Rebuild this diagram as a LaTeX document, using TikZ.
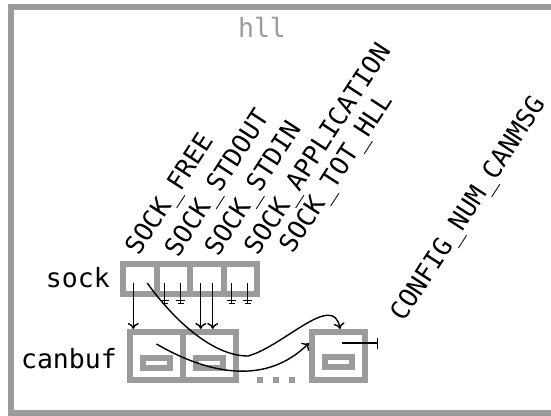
\documentclass[tikz,border=0pt]{standalone}
\usepackage{fontspec}
\setmonofont{DejaVu Sans Mono}
\usetikzlibrary{arrows.meta}
\definecolor{fg}{RGB}{155,155,155}
\begin{document}
\begin{tikzpicture}[x=1pt,y=-1pt,
  sbox/.style={draw=fg, line width=6pt, minimum width=33.5pt, minimum height=30pt, inner sep=0pt},
  cbox/.style={draw=fg, line width=6pt, minimum width=53pt, minimum height=48pt, inner sep=0pt},
  ibox/.style={draw=fg, line width=6pt, minimum width=27pt, minimum height=10pt, inner sep=0pt},
  lbl/.style={font=\ttfamily\fontsize{26.5}{30}\selectfont, inner sep=0pt},
  rlbl/.style={font=\ttfamily\fontsize{25.5}{30}\selectfont, inner sep=0pt, rotate=57, anchor=base west},
  ptr/.style={line width=1.4pt, -{To[length=6pt,width=11pt]}},
  gnd/.pic={\draw[line width=1.4pt] (0,0) -- (0,20) (-4.5,17.5) -- (4.5,17.5) (-3,20.5) -- (3,20.5);}
]
\clip (0,0) rectangle (551,415);
\fill[white] (0,0) rectangle (551,415);
\draw[fg, line width=6pt] (11,7) rectangle (580,413);

% title and row labels
\node[lbl, text=fg, anchor=base] (title) at (262,37) {hll};
\node[lbl, anchor=base east] (socklbl) at (110,287) {sock};
\node[lbl, anchor=base east] (canbuflbl) at (117,368) {canbuf};

% sock array
\node[sbox] (s0) at (139.75,279) {};
\node[sbox] (s1) at (173.25,279) {};
\node[sbox] (s2) at (206.75,279) {};
\node[sbox] (s3) at (240.25,279) {};

% index labels
\node[rlbl] (l0) at (138.6,257) {SOCK\_FREE};
\node[rlbl] (l1) at (178,258.5) {SOCK\_STDOUT};
\node[rlbl] (l2) at (218,258) {SOCK\_STDIN};
\node[rlbl] (l3) at (257.5,257) {SOCK\_APPLICATION};
\node[rlbl] (l4) at (292.5,255) {SOCK\_TOT\_HLL};

% canbuf array
\node[cbox] (c0) at (156.5,356) {};
\node[cbox] (c1) at (209.5,356) {};
\node[cbox] (cN) at (338.5,356) {};
\node[ibox] (i0) at (156.5,363) {};
\node[ibox] (i1) at (209.5,363) {};
\node[ibox] (iN) at (338.5,362) {};
\fill[fg] (257,377) rectangle ++(6,6);
\fill[fg] (273,377) rectangle ++(6,6);
\fill[fg] (289,377) rectangle ++(6,6);
\node[rlbl] (lN) at (403.5,323) {CONFIG\_NUM\_CANMSG};

% null pointers
\pic at ([xshift=-8.5pt,yshift=-4pt]s1.center) {gnd};
\pic at ([xshift=7.5pt,yshift=-4pt]s1.center) {gnd};
\pic at ([xshift=-8.5pt,yshift=-4pt]s3.center) {gnd};
\pic at ([xshift=7.5pt,yshift=-4pt]s3.center) {gnd};

% pointers
\draw[ptr] ([xshift=-6.5pt,yshift=-4pt]s0.center) -- ([xshift=-6.5pt]s0.center |- c0.north);
\draw[ptr] ([xshift=-6pt,yshift=-4pt]s2.center) -- ([xshift=-6pt]s2.center |- c1.north);
\draw[ptr] ([xshift=6pt,yshift=-4pt]s2.center) -- ([xshift=6pt]s2.center |- c1.north);
\coordinate (m) at (248,356);
\draw[line width=1.4pt] ([xshift=7.5pt,yshift=-4pt]s0.center) .. controls (170,315) and (210,356) .. (m);
\draw[ptr] (m) .. controls (284,346) and (333.5,291) .. ([xshift=1.5pt]cN.north);
\draw[ptr] ([yshift=12pt]c0.center) .. controls (208,374) and (266,386) .. ([yshift=13pt]cN.west);
\coordinate (nil) at (378,343);
\draw[line width=1.4pt, -{Bar[width=11pt]}] ([xshift=3.5pt,yshift=13pt]cN.center) -- (nil);
\end{tikzpicture}
\end{document}
